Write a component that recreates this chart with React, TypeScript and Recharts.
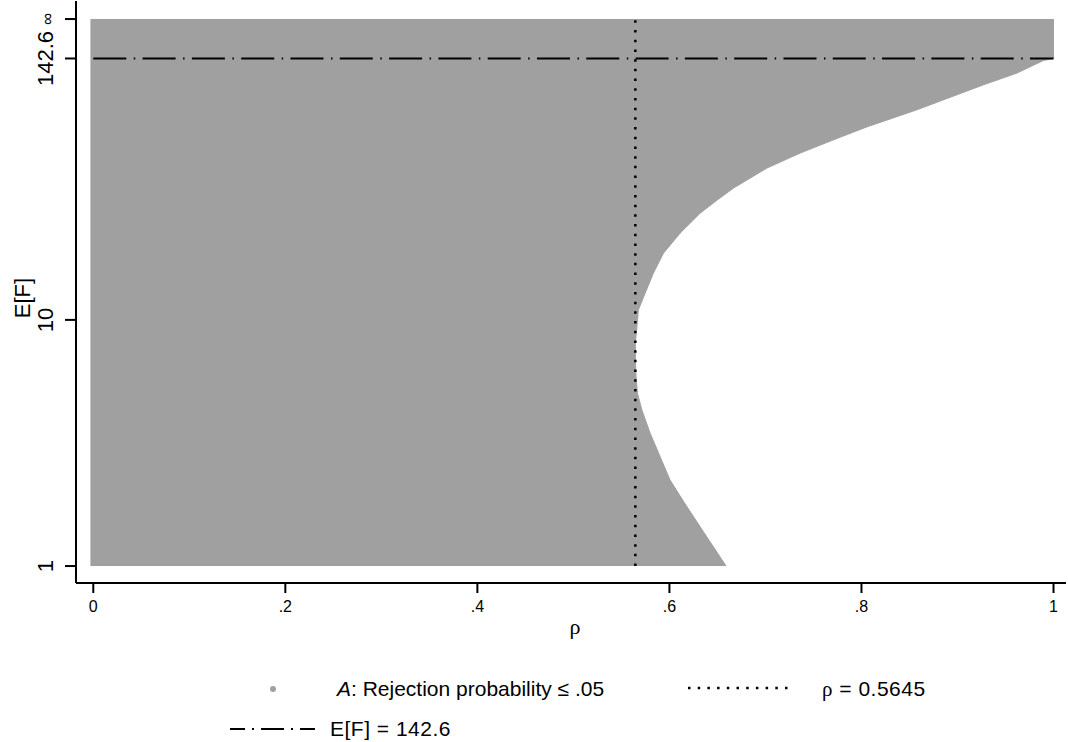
import { Area, ComposedChart, Legend, ReferenceLine, XAxis, YAxis } from "recharts";

const SANS = '"Liberation Sans", Arial, sans-serif';
const SERIF = '"Liberation Serif", "DejaVu Serif", serif';
const GRAY = "#a0a0a0";

// edge of region A: the largest rho still in A at each E[F]
const efValues = [
  1, 1.4, 1.85, 2.43, 3.05, 3.75, 4.53, 5.39, 6.08, 6.83, 7.65, 8.56, 9.15, 10.69, 11.95, 13.68,
  15.7, 18.1, 20.99, 23.19, 25.59, 30.37, 34.88, 39.8, 45.8, 56.3, 81.5, 101.3, 135.3, 142.6,
  Infinity,
];
const rhoEdge = [
  0.659, 0.6458, 0.632, 0.6158, 0.6007, 0.5903, 0.5799, 0.5713, 0.5667, 0.5652, 0.5646, 0.5645,
  0.5655, 0.5677, 0.5747, 0.5833, 0.5938, 0.6111, 0.632, 0.6494, 0.6667, 0.7015, 0.7361, 0.7708,
  0.8056, 0.8577, 0.9271, 0.9619, 0.9896, 1, 1,
];

const xTicks = [0, 0.2, 0.4, 0.6, 0.8, 1];
const xTickLabels = ["0", ".2", ".4", ".6", ".8", "1"];
const yTickValues = [1, 10, 142.6, Infinity];
const yTickLabels = ["1", "10", "142.6", "∞"];

const rhoCutoff = 0.5645;
const efCutoff = 142.6;

// the E[F] axis is squeezed so that infinity lands at the top
const toAxis = (ef: number) => (Number.isFinite(ef) ? (ef - 1) / (ef + 10) : 1);

const rows = efValues.map((ef, i) => ({ ef, t: toAxis(ef), rho: rhoEdge[i] }));
const yTicks = yTickValues.map(toAxis);

const YTick = ({ x, y, payload }: any) => {
  const i = yTicks.findIndex((v) => Math.abs(v - payload.value) < 1e-9);
  const label = yTickLabels[i];
  const small = label === "∞";
  return (
    <text
      x={x}
      y={y}
      transform={`rotate(-90 ${x} ${y})`}
      textAnchor="middle"
      fontSize={small ? 17 : 22}
      fontFamily={SANS}
      fill="#000"
    >
      {label}
    </text>
  );
};

const YTitle = () => (
  <text x={30} y={298} transform="rotate(-90 30 298)" textAnchor="middle" fontSize={22} fontFamily={SANS} fill="#000">
    E[F]
  </text>
);

const LegendBox = () => (
  <svg width={1068} height={100} style={{ display: "block" }}>
    <circle cx={273} cy={49} r={3} fill={GRAY} />
    <text x={337} y={56} fontSize={21} fontFamily={SANS} fill="#000">
      <tspan fontStyle="italic">A</tspan>: Rejection probability ≤ .05
    </text>
    <line x1={688} x2={790} y1={48} y2={48} stroke="#000" strokeWidth={2.5} strokeDasharray="2.5 7.2" />
    <text x={822} y={56} fontSize={21} fontFamily={SANS} fill="#000" letterSpacing={0.5}>
      <tspan fontFamily={SERIF}>ρ</tspan> = 0.5645
    </text>
    <line x1={230} x2={315} y1={89} y2={89} stroke="#000" strokeWidth={2} strokeDasharray="23 7 2 7" strokeDashoffset={8} />
    <text x={330} y={96} fontSize={21} fontFamily={SANS} fill="#000" letterSpacing={0.5}>
      E[F] = 142.6
    </text>
  </svg>
);

export default function App() {
  return (
    <div style={{ position: "absolute", left: 0, top: 0, background: "#fff" }}>
      <ComposedChart
        width={1068}
        height={742}
        layout="vertical"
        data={rows}
        margin={{ top: 1, right: 2, bottom: 2, left: 6 }}
      >
        <XAxis
          type="number"
          dataKey="rho"
          domain={[-0.018, 1.013]}
          ticks={xTicks}
          tickFormatter={(v: number) => xTickLabels[xTicks.indexOf(v)]}
          interval={0}
          height={57}
          tickSize={10}
          tickMargin={8}
          axisLine={{ stroke: "#000", strokeWidth: 2 }}
          tickLine={{ stroke: "#000", strokeWidth: 2 }}
          tick={{ fontSize: 16, fontFamily: SANS, fill: "#000" }}
          label={{ value: "ρ", position: "insideBottom", offset: 6, dx: 4, fontSize: 22, fontFamily: SERIF, fill: "#000" }}
        />
        <YAxis
          type="number"
          dataKey="t"
          reversed
          domain={[-0.031, 1.033]}
          ticks={yTicks}
          interval={0}
          width={70}
          tickSize={11}
          tickMargin={12}
          axisLine={{ stroke: "#000", strokeWidth: 2 }}
          tickLine={{ stroke: "#000", strokeWidth: 2 }}
          tick={<YTick />}
          label={<YTitle />}
        />
        <Area
          type="linear"
          dataKey="rho"
          baseValue={-0.003}
          fill={GRAY}
          fillOpacity={1}
          stroke={GRAY}
          strokeWidth={1}
          dot={false}
          activeDot={false}
          isAnimationActive={false}
        />
        <ReferenceLine
          segment={[
            { x: rhoCutoff, y: 0 },
            { x: rhoCutoff, y: 1 },
          ]}
          stroke="#000"
          strokeWidth={2.5}
          strokeDasharray="2.5 7.2"
        />
        <ReferenceLine
          segment={[
            { x: 0, y: toAxis(efCutoff) },
            { x: 1, y: toAxis(efCutoff) },
          ]}
          stroke="#000"
          strokeWidth={2}
          strokeDasharray="33 7.5 1.5 7.3"
        />
        <Legend
          verticalAlign="bottom"
          content={() => <LegendBox />}
          wrapperStyle={{ left: 0, width: 1068, height: 100 }}
        />
      </ComposedChart>
    </div>
  );
}
